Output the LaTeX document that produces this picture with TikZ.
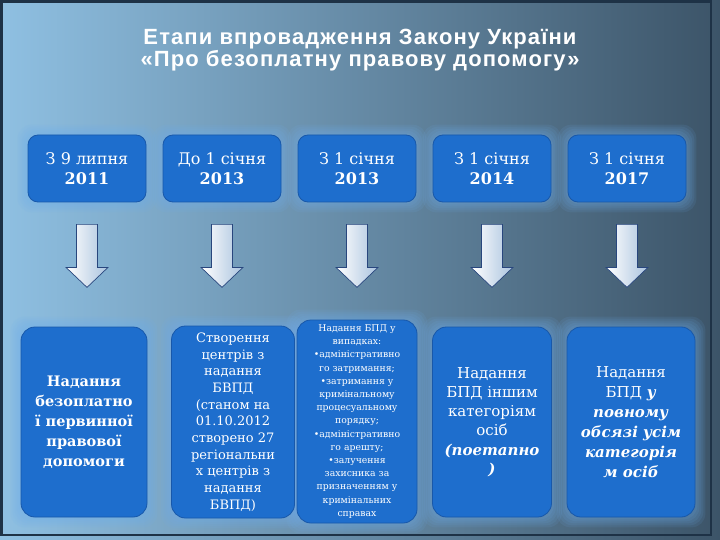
\documentclass[tikz,border=0pt]{standalone}
\usepackage{fontspec}
\setmainfont{DejaVu Serif}
\newfontfamily\titlefont[LetterSpace=5]{Liberation Sans}
\usetikzlibrary{calc,positioning}
\definecolor{bgleft}{RGB}{143,192,226}
\definecolor{bgmid}{RGB}{98,138,168}
\definecolor{bgright}{RGB}{60,84,104}
\definecolor{framec}{RGB}{30,50,70}
\definecolor{boxblue}{RGB}{30,110,205}
\definecolor{boxline}{RGB}{24,88,170}
\definecolor{glowblue}{RGB}{110,175,240}
\definecolor{arrowblue}{RGB}{170,195,222}
\definecolor{arrowline}{RGB}{40,70,125}
\pgfdeclarelayer{back}
\pgfdeclarelayer{halo}
\pgfsetlayers{back,halo,main}
\tikzset{%
	datebox/.style  = {draw=boxline, fill=boxblue, line width=0.8pt, rounded corners=10pt, minimum width=118pt, minimum height=67pt, text=white, align=center, font=\fontsize{16}{20}\selectfont},
	stagebox/.style = {draw=boxline, fill=boxblue, line width=0.8pt, rounded corners=14pt, text=white, align=center, inner sep=2pt},
	arrowbody/.style= {draw=arrowline, line width=0.7pt, left color=white, right color=arrowblue},
}
\newcommand{\glow}[1]{%
	\foreach \g in {2,4,...,10}
	\fill[glowblue, opacity=0.1, rounded corners=14pt] ([xshift=-\g pt,yshift=\g pt]#1.north west) rectangle ([xshift=\g pt,yshift=-\g pt]#1.south east);}
\newcommand{\blockarrow}[1]{%
	\path[arrowbody] (#1) ++(-10.5,0) -- ++(0,43) -- ++(-10.5,0) -- ++(21,20) -- ++(21,-20) -- ++(-10.5,0) -- ++(0,-43) -- cycle;}

\begin{document}
\begin{tikzpicture}[x=1pt,y=-1pt]
	\useasboundingbox (0,0) rectangle (720,540);
	% background
	\begin{pgfonlayer}{back}
		\shade[left color=bgleft, middle color=bgmid, right color=bgright] (0,0) rectangle (720,540);
		\draw[framec, line width=2.5pt] (1.5,1.5) rectangle (711,535);
	\end{pgfonlayer}
	\node[text=white, align=center, font=\titlefont\bfseries\fontsize{22}{22}\selectfont] (title) at (360,50)
		{Етапи впровадження Закону України\\«Про безоплатну правову допомогу»};
	% dates
	\node[datebox] (t1) at (87,168.5) {З 9 липня\\\textbf{2011}};
	\node[datebox] (t2) at (222,168.5) {До 1 січня\\\textbf{2013}};
	\node[datebox] (t3) at (357,168.5) {З 1 січня\\\textbf{2013}};
	\node[datebox] (t4) at (492,168.5) {З 1 січня\\\textbf{2014}};
	\node[datebox] (t5) at (627,168.5) {З 1 січня\\\textbf{2017}};
	% stages
	\node[stagebox, minimum width=126pt, minimum height=190pt, font=\bfseries\fontsize{14.5}{20}\selectfont] (b1) at (84,422)
		{Надання\\безоплатно\\ї первинної\\правової\\допомоги};
	\node[stagebox, minimum width=123pt, minimum height=192pt, font=\fontsize{13}{16.7}\selectfont] (b2) at (233,422)
		{Створення\\центрів з\\надання\\БВПД\\(станом на\\01.10.2012\\створено 27\\регіональни\\х центрів з\\надання\\БВПД)};
	\node[stagebox, minimum width=120pt, minimum height=203pt, font=\fontsize{9.3}{13.2}\selectfont] (b3) at (357,421.5)
		{Надання БПД у\\випадках:\\•адміністративно\\го затримання;\\•затримання у\\кримінальному\\процесуальному\\порядку;\\•адміністративно\\го арешту;\\•залучення\\захисника за\\призначенням у\\кримінальних\\справах};
	\node[stagebox, minimum width=119pt, minimum height=190pt, font=\fontsize{15}{19.3}\selectfont] (b4) at (492,422)
		{Надання\\БПД іншим\\категоріям\\осіб\\\textbf{\textit{(поетапно}}\\\textbf{\textit{)}}};
	\node[stagebox, minimum width=128pt, minimum height=190pt, font=\fontsize{15}{20}\selectfont] (b5) at (631,422)
		{Надання\\БПД \textbf{\textit{у}}\\\textbf{\textit{повному}}\\\textbf{\textit{обсязі усім}}\\\textbf{\textit{категорія}}\\\textbf{\textit{м осіб}}};
	\begin{pgfonlayer}{halo}
		\foreach \n in {t1,t2,t3,t4,t5,b1,b2,b3,b4,b5} {\glow{\n}}
	\end{pgfonlayer}
	% arrows
	\foreach \i in {1,...,5} {
		\coordinate (a\i) at ([yshift=-22pt]t\i.south);
		\blockarrow{a\i}
	}
\end{tikzpicture}
\end{document}
